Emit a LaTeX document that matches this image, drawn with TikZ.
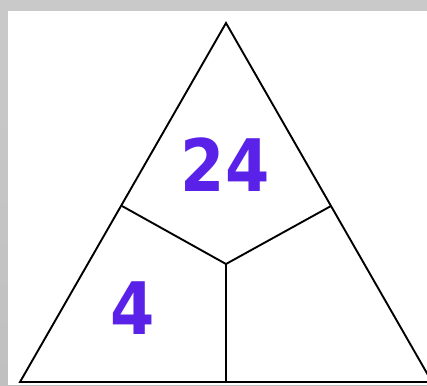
\documentclass[tikz,border=0pt]{standalone}
\usepackage{fontspec}
\newfontfamily\digitfont{DejaVu Sans}[FakeStretch=0.88]
\usetikzlibrary{calc}
\definecolor{numviolet}{RGB}{90,34,232}
\definecolor{marble}{RGB}{192,192,192}
\tikzset{
  edge/.style={line width=2.7pt,black,line join=miter},
  number/.style={numviolet,font=\digitfont\bfseries\fontsize{103}{103}\selectfont,inner sep=0pt}
}
\begin{document}
\begin{tikzpicture}[x=0.05cm,y=-0.05cm]
  \useasboundingbox (0,0) rectangle (427,385);
  % marble frame and white card
  \shade[top color=marble!85,bottom color=marble] (0,0) rectangle (427,385);
  \fill[white] (8,11) rectangle (427,385);
  \clip (0,0) rectangle (427,385);
  % corners of the triangle
  \coordinate (apex) at (226,23);
  \coordinate (left) at (20,382);
  \coordinate (right) at (432,382);
  % points that cut the triangle
  \coordinate (midL) at (122,206);
  \coordinate (midR) at (331,206);
  \coordinate (centre) at (226,264);
  \coordinate (base) at (226,382);
  % outline
  \draw[edge] (apex) -- (left) -- (right) -- cycle;
  % inner cuts
  \draw[edge] (midL) -- (centre) -- (midR);
  \draw[edge] (centre) -- (base);
  % label the regions
  \node[number] (top) at (225,165) {24};
  \node[number] (lower) at (133,308) {4};
\end{tikzpicture}
\end{document}
